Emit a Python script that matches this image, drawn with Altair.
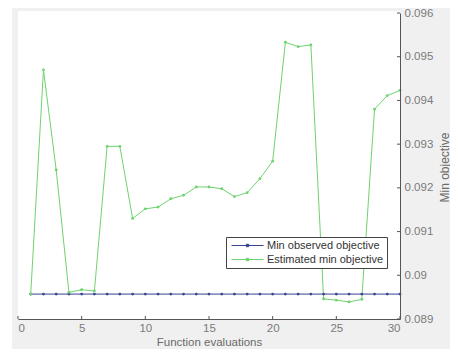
import altair as alt
import pandas as pd

evals = list(range(1, 31))
min_observed = [0.08957, 0.08957, 0.08957, 0.08957, 0.08957, 0.08957, 0.08957, 0.08957, 0.08957, 0.08957,
                0.08957, 0.08957, 0.08957, 0.08957, 0.08957, 0.08957, 0.08957, 0.08957, 0.08957, 0.08957,
                0.08957, 0.08957, 0.08957, 0.08957, 0.08957, 0.08957, 0.08957, 0.08957, 0.08957, 0.08957]
est_min = [0.08957, 0.09470, 0.09241, 0.08961, 0.08967, 0.08964, 0.09295, 0.09295, 0.09130, 0.09152,
           0.09156, 0.09175, 0.09183, 0.09202, 0.09202, 0.09198, 0.09180, 0.09189, 0.09221, 0.09261,
           0.09533, 0.09523, 0.09527, 0.08946, 0.08943, 0.08939, 0.08945, 0.09380, 0.09411, 0.09423]
series_names = ["Min observed objective", "Estimated min objective"]
series_colors = ["#3a4490", "#6fd36f"]
x_ticks = [0, 5, 10, 15, 20, 25, 30]
y_ticks = [0.089, 0.090, 0.091, 0.092, 0.093, 0.094, 0.095, 0.096]

W, H = 382, 306
FONT = "Liberation Sans"

df = pd.DataFrame({
    "eval": evals + evals,
    "value": min_observed + est_min,
    "series": [series_names[0]] * len(evals) + [series_names[1]] * len(evals),
})

xs = alt.Scale(domain=[0, 30], nice=False)
ys = alt.Scale(domain=[0.089, 0.096], nice=False, zero=False)
cs = alt.Scale(domain=series_names, range=series_colors)

x_axis = alt.Axis(
    values=x_ticks, orient="bottom", tickSize=0, labelPadding=3, grid=False,
    title="Function evaluations", titleX=W / 2, titleY=23, titleBaseline="middle",
    titleAlign="center", titleFontWeight="normal",
    titleFontSize=11.5, titleColor="#6a6a6a", labelColor="#7a7a7a", labelFontSize=11.5,
    domainColor="#555555", labelFont=FONT, titleFont=FONT, zindex=1)
y_axis = alt.Axis(
    values=y_ticks, orient="right", tickSize=0, labelPadding=4, grid=False,
    format=".3~f", title="Min objective", titleAngle=270, titleX=44, titleY=154,
    titleAlign="center", titleBaseline="middle",
    titleFontWeight="normal", titleFontSize=12, titleColor="#6a6a6a",
    labelColor="#7a7a7a", labelFontSize=11.5, domainColor="#555555",
    labelFont=FONT, titleFont=FONT, zindex=1)

one = alt.Data(values=[{"k": 0}])

gray_bg = alt.Chart(one).mark_rect(color="#f0f0f0").encode(
    x=alt.value(-6), x2=alt.value(432), y=alt.value(-5), y2=alt.value(336))
white_bg = alt.Chart(one).mark_rect(color="#ffffff").encode(
    x=alt.value(0), x2=alt.value(W), y=alt.value(-2), y2=alt.value(H))

xt = alt.Chart(pd.DataFrame({"t": x_ticks})).mark_rule(color="#555555", strokeWidth=1).encode(
    x=alt.X("t:Q", scale=xs, axis=x_axis), y=alt.value(H), y2=alt.value(H - 3))
yt = alt.Chart(pd.DataFrame({"t": y_ticks})).mark_rule(color="#555555", strokeWidth=1).encode(
    y=alt.Y("t:Q", scale=ys, axis=y_axis), x=alt.value(W), x2=alt.value(W - 3))

legend = alt.Legend(
    title=None, orient="none", legendX=208, legendY=224,
    fillColor="#ffffff", strokeColor="#444444", padding=3, rowPadding=2,
    labelFontSize=11, labelColor="#333333", labelFont=FONT,
    symbolType="M-4,0L4,0M-0.3,-0.3L0.3,-0.3L0.3,0.3L-0.3,0.3Z",
    symbolSize=64, symbolStrokeWidth=1, symbolOffset=13, labelOffset=14)

lines = alt.Chart(df).mark_line(strokeWidth=1).encode(
    x=alt.X("eval:Q", scale=xs, axis=x_axis),
    y=alt.Y("value:Q", scale=ys, axis=y_axis),
    color=alt.Color("series:N", scale=cs, sort=series_names, legend=legend),
    order="eval:Q")
points = alt.Chart(df).mark_point(filled=True, size=8, opacity=1).encode(
    x=alt.X("eval:Q", scale=xs, axis=x_axis),
    y=alt.Y("value:Q", scale=ys, axis=y_axis),
    color=alt.Color("series:N", scale=cs, sort=series_names, legend=legend))

chart = alt.layer(gray_bg, white_bg, xt, yt, lines, points).properties(
    width=W, height=H, padding={"left": 10, "top": 5, "right": 50, "bottom": 30},
    autosize=alt.AutoSizeParams(type="none"), background="#ffffff"
).configure_view(stroke=None)

chart.save("out.html", embed_options={"renderer": "svg", "actions": False})
